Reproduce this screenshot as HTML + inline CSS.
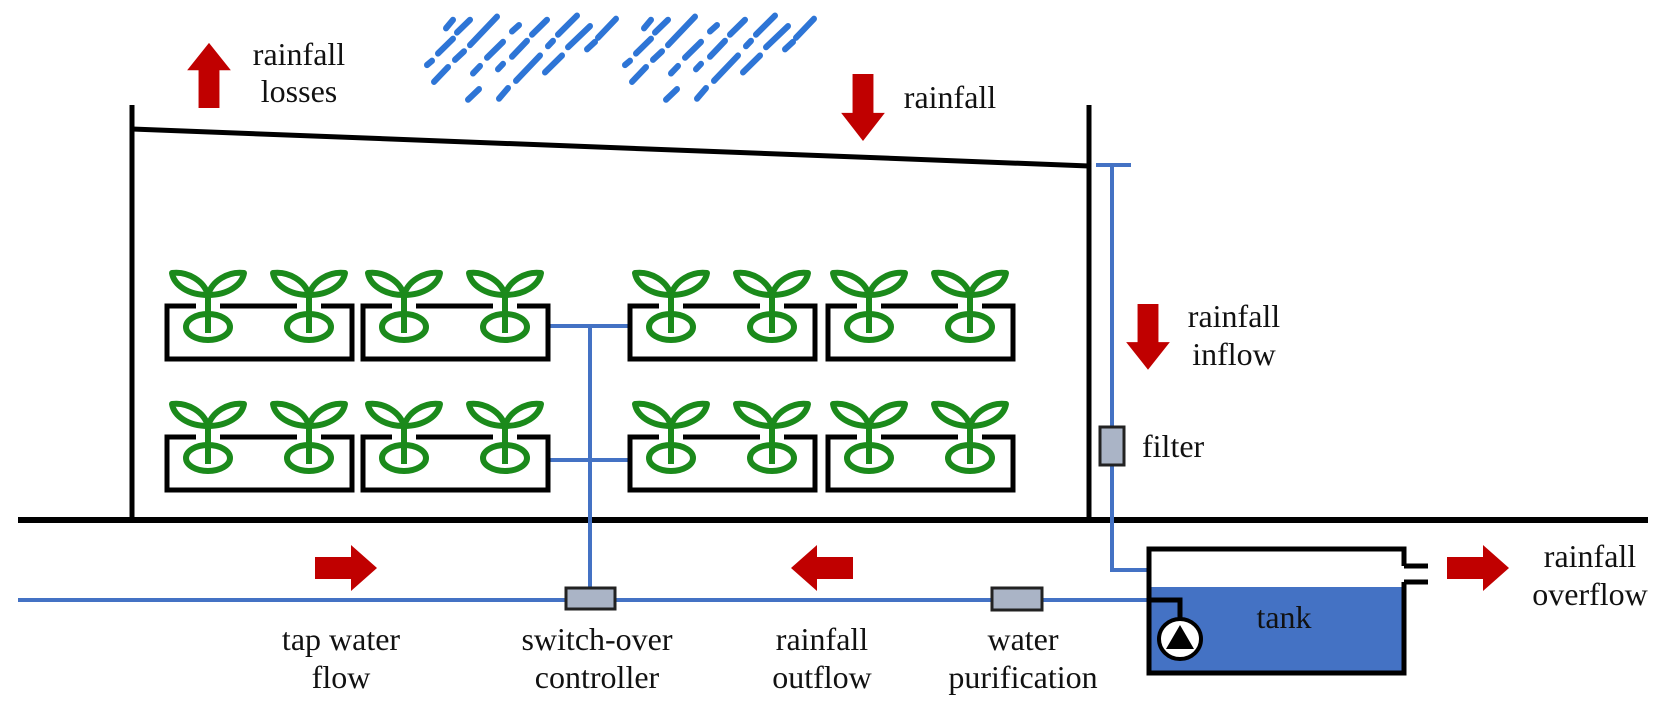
<!DOCTYPE html>
<html><head><meta charset="utf-8"><style>
html,body{margin:0;padding:0;background:#fff;}
svg{display:block;}
text{font-family:"Liberation Serif",serif;font-size:32px;fill:#111;}
</style></head><body>
<svg width="1660" height="703" viewBox="0 0 1660 703" xmlns="http://www.w3.org/2000/svg">
<defs>
<g id="rain" stroke="#2e75d6" stroke-width="6" stroke-linecap="round" transform="translate(0,2) scale(1,1.05)">
<line x1="446" y1="25" x2="453" y2="17"/>
<line x1="457" y1="29" x2="470" y2="17"/>
<line x1="470" y1="41" x2="497" y2="14"/>
<line x1="438" y1="49" x2="453" y2="35"/>
<line x1="427" y1="60" x2="432" y2="56"/>
<line x1="455" y1="55" x2="464" y2="47"/>
<line x1="434" y1="76" x2="448" y2="62"/>
<line x1="487" y1="53" x2="503" y2="38"/>
<line x1="512" y1="28" x2="519" y2="22"/>
<line x1="532" y1="31" x2="547" y2="17"/>
<line x1="558" y1="31" x2="577" y2="13"/>
<line x1="512" y1="52" x2="527" y2="37"/>
<line x1="548" y1="42" x2="553" y2="37"/>
<line x1="568" y1="43" x2="590" y2="23"/>
<line x1="587" y1="45" x2="595" y2="38"/>
<line x1="598" y1="34" x2="616" y2="16"/>
<line x1="473" y1="68" x2="480" y2="61"/>
<line x1="498" y1="64" x2="503" y2="59"/>
<line x1="516" y1="75" x2="540" y2="51"/>
<line x1="545" y1="67" x2="562" y2="51"/>
<line x1="468" y1="93" x2="479" y2="83"/>
<line x1="499" y1="92" x2="508" y2="82"/>
</g>
<g id="plant" stroke="#1b8a1b" stroke-width="6" fill="#fff" stroke-linejoin="round">
<rect x="-12" y="-24" width="24" height="8" fill="#fff" stroke="none"/>
<ellipse cx="0" cy="0" rx="22" ry="13"/>
<line x1="0" y1="-32" x2="0" y2="6" fill="none"/>
<path d="M0,-32 C-4,-46 -20,-56 -36,-54 C-34,-42 -20,-32 0,-32 Z"/>
<path d="M0,-32 C4,-46 20,-56 36,-54 C34,-42 20,-32 0,-32 Z"/>
</g>
<g id="box">
<rect x="0" y="0" width="185" height="53" fill="none" stroke="#000" stroke-width="5"/>
<use href="#plant" x="41" y="21"/>
<use href="#plant" x="142" y="21"/>
</g>
<polygon id="arr" points="0,-11 36,-11 36,-23 62,0 36,23 36,11 0,11" fill="#c00000"/>
</defs>

<use href="#rain"/>
<use href="#rain" x="198"/>

<g stroke="#000" stroke-width="5" fill="none">
<line x1="132" y1="105" x2="132" y2="520"/>
<line x1="1089" y1="105" x2="1089" y2="520"/>
<line x1="132" y1="129" x2="1089" y2="166"/>
<line x1="18" y1="520" x2="1648" y2="520" stroke-width="6"/>
</g>

<g stroke="#4472c4" stroke-width="4" fill="none">
<line x1="548" y1="326" x2="630" y2="326"/>
<line x1="548" y1="460" x2="630" y2="460"/>
<line x1="590" y1="326" x2="590" y2="590"/>
<line x1="18" y1="600" x2="1149" y2="600"/>
<polyline points="1096,165 1131,165"/>
<polyline points="1112,165 1112,570 1149,570"/>
</g>

<use href="#box" x="167" y="306"/>
<use href="#box" x="363" y="306"/>
<use href="#box" x="630" y="306"/>
<use href="#box" x="828" y="306"/>
<use href="#box" x="167" y="437"/>
<use href="#box" x="363" y="437"/>
<use href="#box" x="630" y="437"/>
<use href="#box" x="828" y="437"/>

<g fill="#aab4c6" stroke="#222" stroke-width="3">
<rect x="566" y="588" width="49" height="21"/>
<rect x="992" y="588" width="50" height="22"/>
<rect x="1100" y="427" width="24" height="38"/>
</g>

<rect x="1149" y="587" width="255" height="86" fill="#4472c4"/>
<g stroke="#000" stroke-width="5" fill="none">
<polyline points="1404,566 1404,549 1149,549 1149,673 1404,673 1404,582"/>
<polyline points="1404,566 1428,566"/>
<polyline points="1404,582 1428,582"/>
<polyline points="1149,600 1180,600 1180,619"/>
</g>
<ellipse cx="1180" cy="639" rx="21" ry="20" fill="#fff" stroke="#000" stroke-width="4"/>
<polygon points="1180,625 1194,649 1166,649" fill="#000"/>

<use href="#arr" transform="translate(315,568)"/>
<use href="#arr" transform="translate(853,568) scale(-1,1)"/>
<use href="#arr" transform="translate(1447,568)"/>
<use href="#arr" transform="translate(209,108) rotate(-90) scale(1.05,0.95)"/>
<use href="#arr" transform="translate(863,74) rotate(90) scale(1.08,0.95)"/>
<use href="#arr" transform="translate(1148,304) rotate(90) scale(1.06,0.95)"/>

<g text-anchor="middle">
<text x="299" y="65">rainfall</text>
<text x="299" y="102">losses</text>
<text x="950" y="108">rainfall</text>
<text x="1234" y="327">rainfall</text>
<text x="1234" y="365">inflow</text>
<text x="341" y="650">tap water</text>
<text x="341" y="688">flow</text>
<text x="597" y="650">switch-over</text>
<text x="597" y="688">controller</text>
<text x="822" y="650">rainfall</text>
<text x="822" y="688">outflow</text>
<text x="1023" y="650">water</text>
<text x="1023" y="688">purification</text>
<text x="1590" y="567">rainfall</text>
<text x="1590" y="605">overflow</text>
<text x="1284" y="628">tank</text>
</g>
<text x="1142" y="457">filter</text>
</svg>
</body></html>
